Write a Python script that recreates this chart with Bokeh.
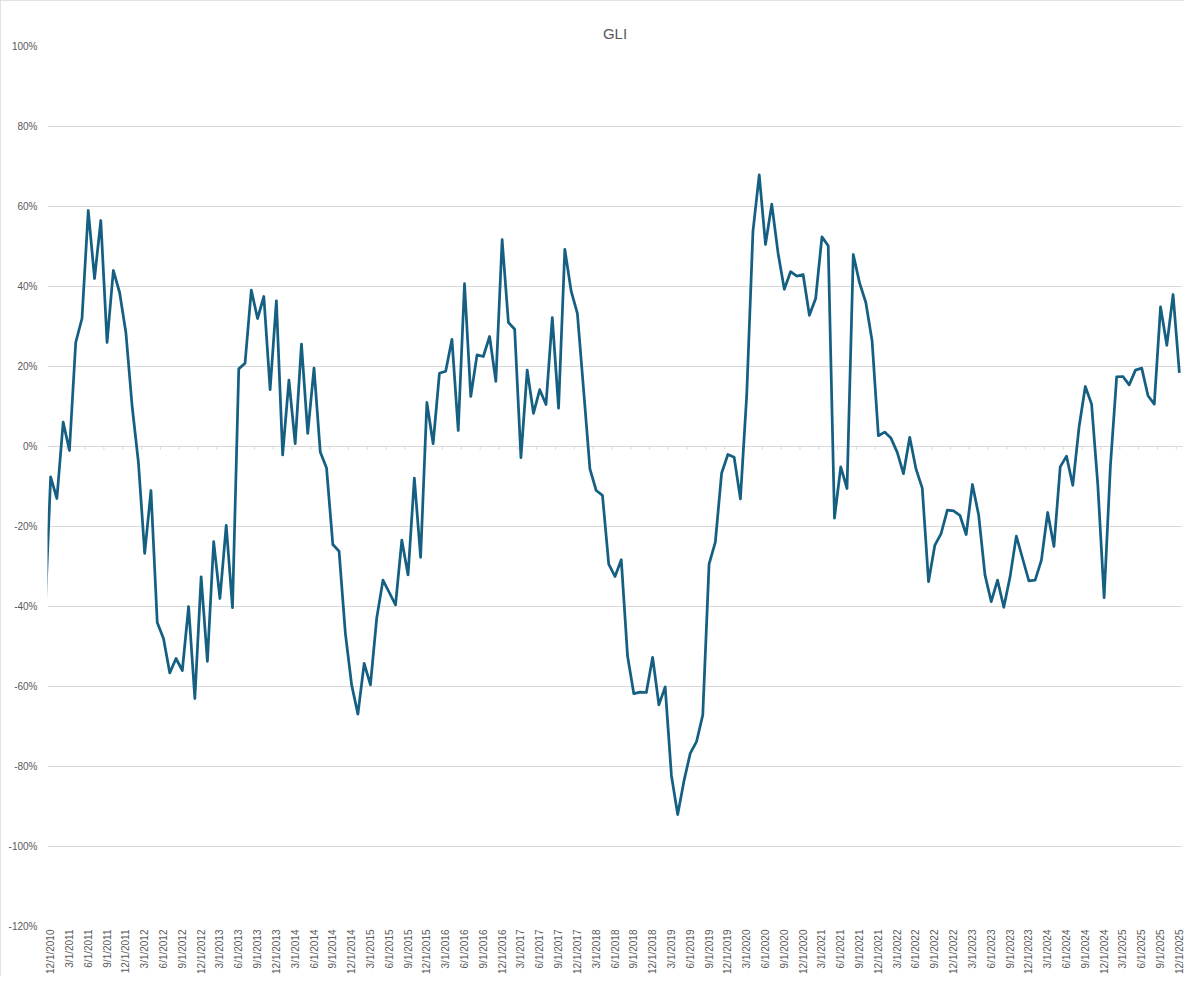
from bokeh.plotting import figure
from bokeh.models import Range1d, FixedTicker, PrintfTickFormatter, ColumnDataSource
from bokeh.embed import file_html
from bokeh.resources import INLINE
import math

# GLI, monthly, % (first value is 11/1/2010, clipped by the axis start)
gli = [-46,
       -7.6, -13, 6.1, -1, 26, 32, 59, 42, 56.5, 26, 44, 38.5,
       28.5, 10, -4, -26.7, -11, -44, -48, -56.6, -53, -56, -40, -63,
       -32.6, -53.7, -23.8, -38, -19.7, -40.3, 19.4, 20.8, 39.1, 32, 37.5, 14.2,
       36.4, -2.1, 16.6, 0.7, 25.6, 3.3, 19.6, -1.4, -5.4, -24.5, -26.2, -46.7,
       -59.6, -66.9, -54.2, -59.6, -42.9, -33.4, -36.5, -39.6, -23.4, -32.1, -7.9, -27.7,
       11, 0.7, 18.3, 18.8, 26.8, 4, 40.7, 12.5, 22.9, 22.5, 27.5, 16.3,
       51.7, 31, 29.3, -2.8, 19.1, 8.3, 14.2, 10.5, 32.2, 9.6, 49.3, 38.9,
       33.3, 14, -5.6, -11, -12.2, -29.4, -32.5, -28.3, -52.4, -61.8, -61.4, -61.5,
       -52.7, -64.6, -60.1, -82.3, -92, -83.6, -76.7, -73.8, -67.1, -29.4, -23.9, -6.7,
       -2, -2.7, -13.1, 12.7, 53.8, 67.9, 50.5, 60.6, 48.4, 39.3, 43.7, 42.6,
       43, 32.8, 37, 52.4, 50.2, -17.9, -5.1, -10.5, 48, 40.9, 36, 26.4,
       2.7, 3.6, 2.1, -1.4, -6.8, 2.3, -5.6, -10.4, -33.8, -24.7, -21.8, -15.9,
       -16.1, -17.2, -22, -9.5, -17.2, -32.1, -38.8, -33.4, -40.2, -32.6, -22.4, -28,
       -33.6, -33.4, -28.4, -16.5, -25, -5.1, -2.4, -9.7, 4.8, 15, 10.6, -9.7,
       -37.8, -5, 17.4, 17.5, 15.4, 19.1, 19.6, 12.7, 10.6, 34.9, 25.3, 38,
       18.4]
month = list(range(-1, len(gli) - 1))

tick_labels = [
    "12/1/2010", "3/1/2011", "6/1/2011", "9/1/2011", "12/1/2011",
    "3/1/2012", "6/1/2012", "9/1/2012", "12/1/2012",
    "3/1/2013", "6/1/2013", "9/1/2013", "12/1/2013",
    "3/1/2014", "6/1/2014", "9/1/2014", "12/1/2014",
    "3/1/2015", "6/1/2015", "9/1/2015", "12/1/2015",
    "3/1/2016", "6/1/2016", "9/1/2016", "12/1/2016",
    "3/1/2017", "6/1/2017", "9/1/2017", "12/1/2017",
    "3/1/2018", "6/1/2018", "9/1/2018", "12/1/2018",
    "3/1/2019", "6/1/2019", "9/1/2019", "12/1/2019",
    "3/1/2020", "6/1/2020", "9/1/2020", "12/1/2020",
    "3/1/2021", "6/1/2021", "9/1/2021", "12/1/2021",
    "3/1/2022", "6/1/2022", "9/1/2022", "12/1/2022",
    "3/1/2023", "6/1/2023", "9/1/2023", "12/1/2023",
    "3/1/2024", "6/1/2024", "9/1/2024", "12/1/2024",
    "3/1/2025", "6/1/2025", "9/1/2025", "12/1/2025",
]
tick_pos = [3 * k for k in range(len(tick_labels))]
y_ticks = list(range(-120, 101, 20))

FONT = "Liberation Sans"
GREY = "#595959"
GRID = "#D9D9D9"

p = figure(width=1184, height=976, output_backend="svg", toolbar_location=None,
           x_range=Range1d(-0.5, 180.5), y_range=Range1d(-120, 100),
           min_border_left=47, min_border_right=2, min_border_top=46, min_border_bottom=47)
p.styles = {"outline": "1px solid #D9D9D9", "outline-offset": "-1px"}
p.outline_line_color = None
p.background_fill_color = "white"

p.title.text = "GLI"
p.title.align = "center"
p.title.text_font = FONT
p.title.text_font_size = "15px"
p.title.text_font_style = "normal"
p.title.text_color = GREY
p.title.standoff = 10

# gridlines
p.xgrid.visible = False
p.ygrid.ticker = FixedTicker(ticks=y_ticks)
p.ygrid.grid_line_color = GRID
p.ygrid.grid_line_width = 1

p.yaxis.ticker = FixedTicker(ticks=y_ticks)
p.yaxis.formatter = PrintfTickFormatter(format="%d%%")
p.yaxis.axis_line_color = None
p.yaxis.major_tick_line_color = None
p.yaxis.minor_tick_line_color = None
p.yaxis.major_tick_out = 0
p.yaxis.major_tick_in = 0
p.yaxis.minor_tick_out = 0
p.yaxis.major_label_standoff = 10
p.yaxis.major_label_text_font = FONT
p.yaxis.major_label_text_font_size = "10px"
p.yaxis.major_label_text_color = GREY

p.xaxis.ticker = FixedTicker(ticks=tick_pos)
p.xaxis.major_label_overrides = {t: s for t, s in zip(tick_pos, tick_labels)}
p.xaxis.major_label_orientation = math.pi / 2
p.xaxis.axis_line_color = None
p.xaxis.major_tick_line_color = None
p.xaxis.minor_tick_line_color = None
p.xaxis.major_tick_out = 0
p.xaxis.major_tick_in = 0
p.xaxis.minor_tick_out = 0
p.xaxis.major_label_standoff = 3
p.xaxis.major_label_text_font = FONT
p.xaxis.major_label_text_font_size = "10px"
p.xaxis.major_label_text_color = GREY

# horizontal axis line at 0% with small tick marks between categories
p.line(x=[-0.5, 180.5], y=[0, 0], line_color=GRID, line_width=1)
marks = [2.5 + 3 * k for k in range(60)]
p.segment(x0=marks, y0=[0] * len(marks), x1=marks, y1=[-0.8] * len(marks),
          line_color=GRID, line_width=1)

src = ColumnDataSource(dict(month=month, gli=gli))
p.line("month", "gli", source=src, line_color="#156082", line_width=2.75, line_join="round")

open("out.html", "w").write(file_html(p, INLINE))
